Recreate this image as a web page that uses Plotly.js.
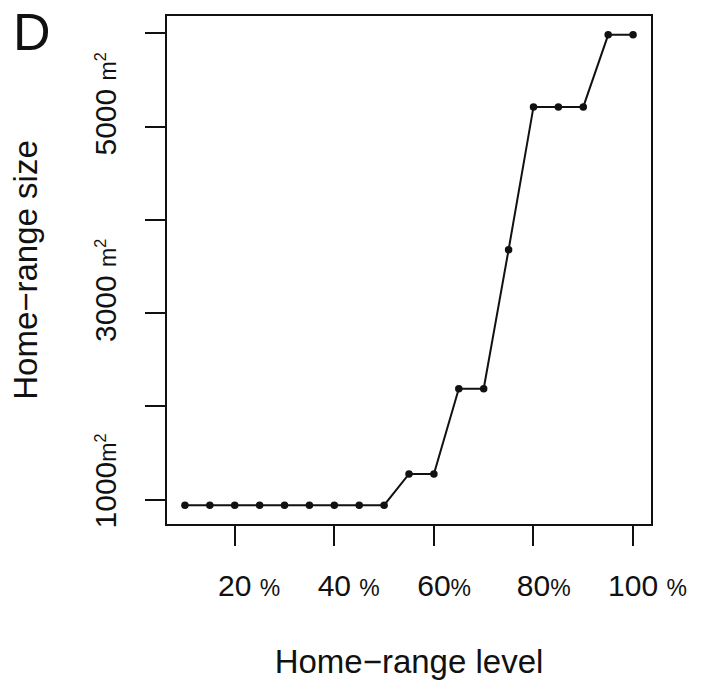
<!DOCTYPE html>
<html>
<head>
<meta charset="utf-8">
<script src="https://cdn.plot.ly/plotly-3.0.1.min.js"></script>
<style>html,body{margin:0;padding:0;background:#fff;}#chart{width:704px;height:686px;}</style>
</head>
<body>
<div id="chart"></div>
<script>
// Home-range level (%)
const levels = [10, 15, 20, 25, 30, 35, 40, 45, 50, 55, 60, 65, 70, 75, 80, 85, 90, 95, 100];
// Home-range size (m²)
const sizes = [940, 940, 940, 940, 940, 940, 940, 940, 940, 1275, 1275, 2190, 2190, 3680, 5212, 5212, 5212, 5985, 5985];

const xTickVals = [20, 40, 60, 80, 100];
const xTickNums = ["20", "40", "60", "80", "100"];
const xTickSep = [" ", " ", "", "", " "];
const yTickVals = [1000, 2000, 3000, 4000, 5000, 6000];
const yTickNums = ["1000", "", "3000", "", "5000", ""];
const yTickSep = ["", "", " ", "", " ", ""];

const pct = '<span style="font-size:23px">%</span>';
const pctGhost = '<span style="font-size:23px;color:rgba(0,0,0,0)">%</span>';
const m2 = '<span style="font-size:23px">m<sup>2</sup></span>';
const m2ghost = '<span style="font-size:23px;color:rgba(0,0,0,0)">m<sup>2</sup></span>';

const xTickText = xTickNums.map((n, i) => pctGhost + xTickSep[i] + n + xTickSep[i] + pct);
const yTickText = yTickNums.map((n, i) => n === "" ? "" : m2ghost + yTickSep[i] + n + yTickSep[i] + m2);

const ink = '#111111';
const trace = {
  x: levels, y: sizes, type: 'scatter', mode: 'lines+markers',
  line: {color: ink, width: 2},
  marker: {color: ink, size: 7.5},
  cliponaxis: false, hoverinfo: 'skip'
};

const layout = {
  width: 704, height: 686,
  margin: {l: 167, r: 53, t: 16, b: 162},
  paper_bgcolor: '#ffffff', plot_bgcolor: '#ffffff',
  showlegend: false,
  font: {family: 'Liberation Sans, Arial, sans-serif', color: ink},
  xaxis: {
    range: [6.4, 103.6], showgrid: false, zeroline: false,
    showline: true, mirror: true, linecolor: ink, linewidth: 2,
    ticks: 'outside', ticklen: 20, tickwidth: 2, tickcolor: ink,
    tickvals: xTickVals, ticktext: xTickText,
    tickfont: {size: 30, color: ink},
    ticklabelstandoff: 14,
    title: {text: 'Home\u2212range level', font: {size: 33, color: ink}, standoff: 49},
    automargin: false
  },
  yaxis: {
    range: [738, 6187], showgrid: false, zeroline: false,
    showline: true, mirror: true, linecolor: ink, linewidth: 2,
    ticks: 'outside', ticklen: 20, tickwidth: 2, tickcolor: ink,
    tickvals: yTickVals, ticktext: yTickText, tickangle: -90,
    tickfont: {size: 30, color: ink},
    ticklabelstandoff: 17,
    title: {text: 'Home\u2212range size', font: {size: 33, color: ink}, standoff: 41},
    automargin: false
  },
  annotations: [{
    text: 'D', xref: 'paper', yref: 'paper', x: -0.279, y: 0.968,
    xanchor: 'center', yanchor: 'middle', showarrow: false,
    font: {size: 52, color: ink}
  }]
};

Plotly.newPlot('chart', [trace], layout, {staticPlot: true, displayModeBar: false});
</script>
</body>
</html>
